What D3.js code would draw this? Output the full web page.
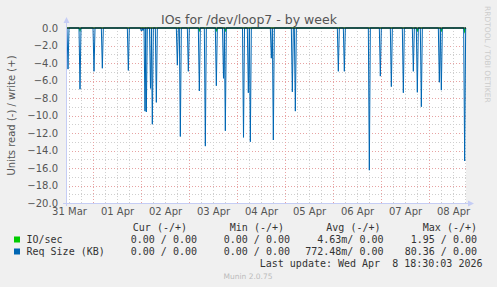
<!DOCTYPE html>
<html>
<head>
<meta charset="utf-8">
<script src="https://cdn.jsdelivr.net/npm/d3@7"></script>
<style>
  body { margin: 0; background: #f0f0f0; }
  svg { display: block; font-family: "DejaVu Sans", sans-serif; }
  .mono { font-family: "DejaVu Sans Mono", monospace; font-size: 10px; fill: #333; white-space: pre; }
</style>
</head>
<body>
<svg id="chart" width="497" height="287"></svg>
<script>
// read (-) spikes of Req Size (KB)
const spikeTimes = [
  "2026-03-31 11:30", "2026-03-31 17:30", "2026-04-01 00:30", "2026-04-01 04:40",
  "2026-04-01 17:40", "2026-04-02 00:10", "2026-04-02 01:00", "2026-04-02 02:00",
  "2026-04-02 02:40", "2026-04-02 04:45", "2026-04-02 05:40", "2026-04-02 07:40",
  "2026-04-02 18:10", "2026-04-02 19:40", "2026-04-02 23:40", "2026-04-03 05:10",
  "2026-04-03 08:10", "2026-04-03 13:40", "2026-04-03 17:15", "2026-04-03 18:10",
  "2026-04-04 03:15", "2026-04-04 05:40", "2026-04-04 06:40", "2026-04-04 17:10",
  "2026-04-04 18:10", "2026-04-05 03:40", "2026-04-05 05:10", "2026-04-06 02:40",
  "2026-04-06 05:40", "2026-04-06 18:10", "2026-04-06 23:40", "2026-04-07 05:10",
  "2026-04-07 11:10", "2026-04-07 16:10", "2026-04-07 18:10", "2026-04-07 20:10",
  "2026-04-08 05:10", "2026-04-08 06:10", "2026-04-08 17:50"
];
const reqSize = [
  -4.7, -7.0, -4.95, -4.6,
  -4.85, -0.35, -0.3, -9.5,
  -9.6, -6.9, -11.0, -8.5,
  -4.25, -12.4, -4.95, -7.2,
  -13.5, -6.6, -5.75, -11.75,
  -12.5, -7.4, -13.0, -3.45,
  -12.8, -7.3, -9.5, -4.95,
  -4.95, -16.25, -5.5, -6.7,
  -7.4, -4.95, -7.35, -9.0,
  -6.2, -7.1, -15.2
];

// read (-) IO/sec, mostly hidden behind the blue spikes
const ioTimes = [
  "2026-03-31 17:30", "2026-04-03 05:10", "2026-04-03 13:40", "2026-04-03 18:10",
  "2026-04-07 18:10", "2026-04-08 06:10", "2026-04-08 17:50"
];
const ioSec = [-0.3, -0.3, -0.3, -0.3, -0.3, -0.3, -0.4];

const yTicks = [0, -2, -4, -6, -8, -10, -12, -14, -16, -18, -20];

const legendRows = [
  { name: "IO/sec", color: "#00cc00", cur: "0.00 / 0.00", min: "0.00 / 0.00", avg: "4.63m/ 0.00", max: "1.95 / 0.00" },
  { name: "Req Size (KB)", color: "#0066b3", cur: "0.00 / 0.00", min: "0.00 / 0.00", avg: "772.48m/ 0.00", max: "80.36 / 0.00" }
];

const parse = d3.timeParse("%Y-%m-%d %H:%M");
const endTime = parse("2026-04-08 18:30");
const startTime = d3.timeHour.offset(endTime, -200);

const svg = d3.select("#chart");
const pL = 66, pR = 466, pT = 28, pB = 203;

const x = d3.scaleTime().domain([startTime, endTime]).range([pL, pR]);
const y = d3.scaleLinear().domain([-20, 0]).range([pB, pT]);

svg.append("rect").attr("x", pL).attr("y", pT)
  .attr("width", pR - pL).attr("height", pB - pT).attr("fill", "#fff");

// grid
const grid = svg.append("g").attr("shape-rendering", "crispEdges");
d3.range(-19, 0, 2).forEach(v => {
  grid.append("line").attr("x1", pL).attr("x2", pR)
    .attr("y1", Math.round(y(v)) + 0.5).attr("y2", Math.round(y(v)) + 0.5)
    .attr("stroke", "#cfcfcf").attr("stroke-dasharray", "1,2");
});
yTicks.filter(v => v > -20 && v < 0).forEach(v => {
  grid.append("line").attr("x1", pL).attr("x2", pR)
    .attr("y1", Math.round(y(v)) + 0.5).attr("y2", Math.round(y(v)) + 0.5)
    .attr("stroke", "#e7a3a3").attr("stroke-dasharray", "1,2");
});
d3.timeHour.every(6).range(startTime, endTime).forEach(t => {
  const isDay = t.getHours() === 0;
  grid.append("line").attr("y1", pT).attr("y2", pB)
    .attr("x1", Math.round(x(t)) + 0.5).attr("x2", Math.round(x(t)) + 0.5)
    .attr("stroke", isDay ? "#e7a3a3" : "#cfcfcf").attr("stroke-dasharray", "1,2");
});

// series
function spikeSeries(times, values) {
  const pts = [[startTime, 0]];
  times.forEach((s, i) => {
    const t = parse(s);
    pts.push([d3.timeMinute.offset(t, -30), 0], [t, values[i]], [d3.timeMinute.offset(t, 30), 0]);
  });
  pts.push([endTime, 0]);
  return pts;
}
const line = d3.line().x(d => x(d[0])).y(d => y(d[1]));

svg.append("path").datum(spikeSeries(ioTimes, ioSec))
  .attr("d", line).attr("fill", "none").attr("stroke", "#00cc00").attr("stroke-width", 1.2);
svg.append("path").datum(spikeSeries(spikeTimes, reqSize))
  .attr("d", line).attr("fill", "none").attr("stroke", "#0066b3").attr("stroke-width", 1);

// zero line
svg.append("line").attr("x1", pL).attr("x2", pR).attr("y1", y(0)).attr("y2", y(0))
  .attr("stroke", "#000").attr("stroke-width", 1);

// axes frame with arrows
const axisCol = "#c5cdf5";
svg.append("line").attr("x1", pL + 0.5).attr("x2", pL + 0.5).attr("y1", pB + 3).attr("y2", pT - 6)
  .attr("stroke", axisCol);
svg.append("line").attr("x1", pL - 3).attr("x2", pR + 3).attr("y1", pB + 0.5).attr("y2", pB + 0.5)
  .attr("stroke", axisCol);
svg.append("path").attr("d", `M${pL - 2.5},${pT - 5}L${pL + 0.5},${pT - 11}L${pL + 3.5},${pT - 5}Z`).attr("fill", axisCol);
svg.append("path").attr("d", `M${pR + 2},${pB - 2.5}L${pR + 8},${pB + 0.5}L${pR + 2},${pB + 3.5}Z`).attr("fill", axisCol);

// y labels
const yAxis = svg.append("g").attr("transform", `translate(${pL - 5},0)`)
  .call(d3.axisLeft(y).tickValues(yTicks).tickFormat(d3.format(".1f")).tickSize(0));
yAxis.select(".domain").remove();
yAxis.selectAll("text").attr("font-size", 10).attr("fill", "#555").attr("font-family", "DejaVu Sans");

// x labels at noon of each day
const noons = d3.timeDay.range(d3.timeDay.floor(startTime), endTime).map(d => d3.timeHour.offset(d, 12));
const xAxis = svg.append("g").attr("transform", `translate(0,${pB + 2})`)
  .call(d3.axisBottom(x).tickValues(noons).tickFormat(d3.timeFormat("%d %b")).tickSize(0));
xAxis.select(".domain").remove();
xAxis.selectAll("text").attr("font-size", 10).attr("fill", "#555").attr("font-family", "DejaVu Sans");

// title and side texts
svg.append("text").attr("x", 249).attr("y", 24).attr("text-anchor", "middle")
  .attr("font-size", 12.5).attr("fill", "#555").text("IOs for /dev/loop7 - by week");
svg.append("text").attr("transform", `translate(15,${(pT + pB) / 2}) rotate(-90)`)
  .attr("text-anchor", "middle").attr("font-size", 10).attr("fill", "#555")
  .text("Units read (-) / write (+)");
svg.append("text").attr("transform", "translate(485,6) rotate(90)")
  .attr("font-size", 7.5).attr("fill", "#ccc").text("RRDTOOL / TOBI OETIKER");

// legend
const cols = [
  { key: "cur", head: "Cur (-/+)", end: 197, headEnd: 187 },
  { key: "min", head: "Min (-/+)", end: 290, headEnd: 284 },
  { key: "avg", head: "Avg (-/+)", end: 383.5, headEnd: 380.5 },
  { key: "max", head: "Max (-/+)", end: 477, headEnd: 477 }
];
cols.forEach(c => {
  svg.append("text").attr("class", "mono").attr("x", c.headEnd).attr("y", 231)
    .attr("text-anchor", "end").text(c.head);
});
legendRows.forEach((r, i) => {
  const yy = 242.5 + i * 12;
  svg.append("rect").attr("x", 14).attr("y", yy - 6).attr("width", 6).attr("height", 6).attr("fill", r.color);
  svg.append("text").attr("class", "mono").attr("x", 26.5).attr("y", yy).text(r.name);
  cols.forEach(c => {
    svg.append("text").attr("class", "mono").attr("x", c.end).attr("y", yy)
      .attr("text-anchor", "end").text(r[c.key]);
  });
});
svg.append("text").attr("class", "mono").attr("x", 482.5).attr("y", 266.7)
  .attr("text-anchor", "end").text("Last update: Wed Apr  8 18:30:03 2026");
svg.append("text").attr("x", 248).attr("y", 279).attr("text-anchor", "middle")
  .attr("font-size", 7.5).attr("fill", "#bbb").text("Munin 2.0.75");
</script>
</body>
</html>
